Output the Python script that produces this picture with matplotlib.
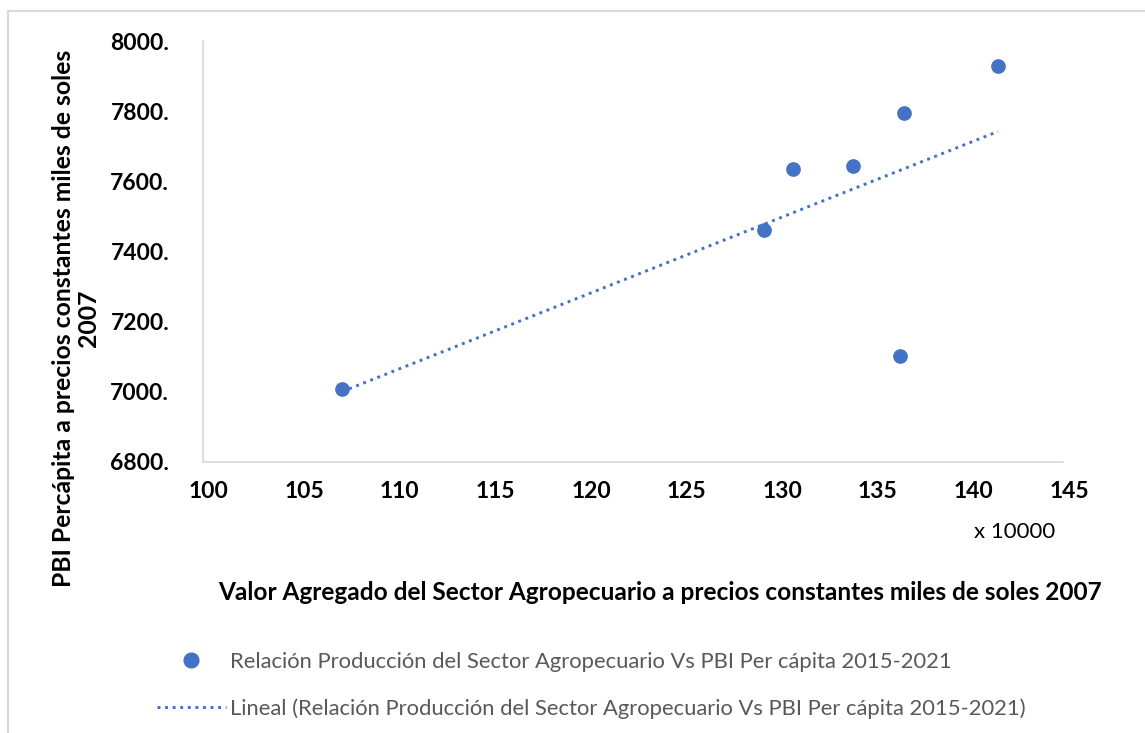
'''scatter con linea de tendencia.'''
import numpy as np
import matplotlib.pyplot as plt
import matplotlib.transforms as mtransforms
from matplotlib.lines import Line2D

plt.rcParams['font.family'] = ['Lato', 'DejaVu Sans']

# valor agregado agropecuario (x 10000) y PBI per capita
va_agro = [107.3, 129.35, 130.9, 134.0, 136.5, 136.7, 141.6]
pbi_pc = [7009, 7461, 7636, 7644, 7101, 7796, 7930]

x_ticks = [100, 105, 110, 115, 120, 125, 130, 135, 140, 145]
y_ticks = [6800, 7000, 7200, 7400, 7600, 7800, 8000]

serie = 'Relación Producción del Sector Agropecuario Vs PBI Per cápita 2015-2021'
color = '#4472C4'

W, H = 1145, 733
fig = plt.figure(figsize=(W / 100, H / 100), dpi=100)
ax = fig.add_axes([202.5 / W, 1 - 462 / H, (1063 - 202.5) / W, (462 - 41) / H])

ax.scatter(va_agro, pbi_pc, s=112, color=color, zorder=3, linewidths=0)

# tendencia lineal
m, b = np.polyfit(va_agro, pbi_pc, 1)
xt = np.array([min(va_agro), max(va_agro)])
ax.plot(xt, m * xt + b, color=color, lw=2.1, linestyle=(0, (1, 1.6)), zorder=2)

ax.set_xlim(100, 145)
ax.set_ylim(6800, 8000)
ax.set_xticks(x_ticks)
ax.set_xticklabels([str(v) for v in x_ticks])
ax.set_yticks(y_ticks)
ax.set_yticklabels([f'{v}.' for v in y_ticks])
ax.tick_params(length=0, labelsize=16.5)
ax.tick_params(axis='x', pad=14)
ax.tick_params(axis='y', pad=24)
shift = mtransforms.ScaledTranslation(6 / 100, 0, fig.dpi_scale_trans)
for lab in ax.get_xticklabels():
    lab.set_transform(lab.get_transform() + shift)
for lab in ax.get_xticklabels() + ax.get_yticklabels():
    lab.set_fontweight('bold')

for s in ['top', 'right']:
    ax.spines[s].set_visible(False)
for s in ['left', 'bottom']:
    ax.spines[s].set_color('#D9D9D9')
    ax.spines[s].set_linewidth(1.2)

fig.text(1015 / W, 1 - 532 / H, 'x 10000', ha='center', va='center', fontsize=16)
fig.text(660 / W, 1 - 592 / H,
         'Valor Agregado del Sector Agropecuario a precios constantes miles de soles 2007',
         ha='center', va='center', fontsize=17.6, fontweight='bold')
fig.text(76 / W, 1 - 318 / H,
         'PBI Percápita a precios constantes miles de soles\n2007',
         ha='center', va='center', rotation=90, fontsize=17.8, fontweight='bold',
         multialignment='center', linespacing=1.1)

handles = [
    Line2D([], [], marker='o', linestyle='none', markersize=10.6, color=color),
    Line2D([], [], color=color, lw=2.1, linestyle=(0, (1, 1.6))),
]
leg = fig.legend(handles, [serie, 'Lineal (' + serie + ')'],
                 loc='upper left', bbox_to_anchor=(148 / W, 1 - 643 / H),
                 frameon=False, fontsize=15.8, handlelength=3.15,
                 handletextpad=0.2, labelspacing=1.22, borderaxespad=0)
for t in leg.get_texts():
    t.set_color('#595959')

# borde del area del grafico
fig.add_artist(Line2D([8 / W, 1], [1 - 11 / H] * 2, color='#D9D9D9', lw=1.5))
fig.add_artist(Line2D([8 / W] * 2, [0, 1 - 11 / H], color='#D9D9D9', lw=1.5))

fig.savefig('out.png', dpi=100)
